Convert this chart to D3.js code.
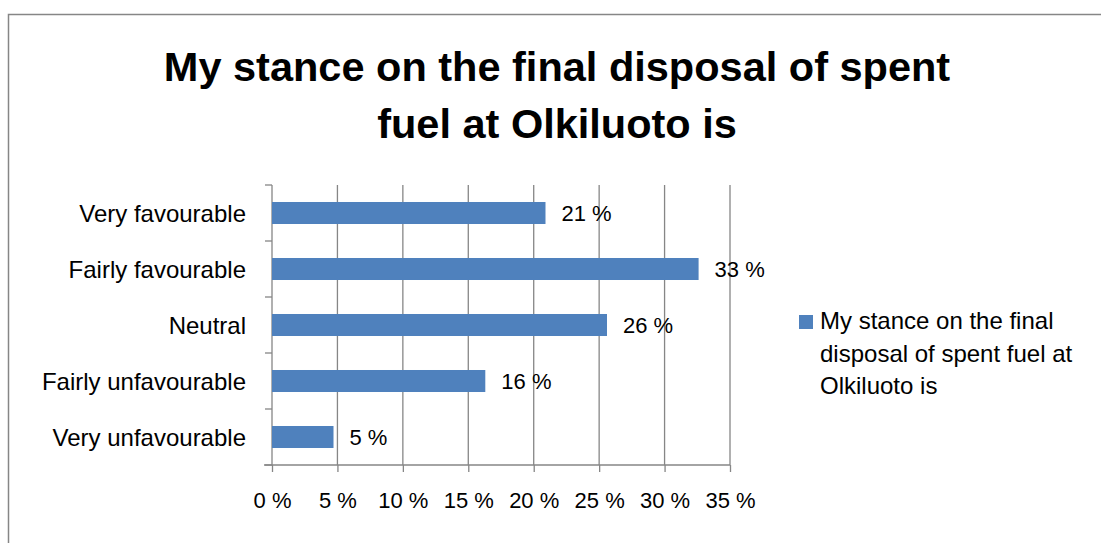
<!DOCTYPE html>
<html>
<head>
<meta charset="utf-8">
<script src="https://cdn.jsdelivr.net/npm/d3@7"></script>
<style>
  html, body { margin: 0; padding: 0; background: #fff; }
  svg { display: block; font-family: "Liberation Sans", Arial, sans-serif; }
</style>
</head>
<body>
<svg id="chart" width="1101" height="543"></svg>
<script>
// Survey answers, top to bottom
const categories = ["Very favourable", "Fairly favourable", "Neutral", "Fairly unfavourable", "Very unfavourable"];
// Share of respondents (%)
const shares = [20.9, 32.6, 25.6, 16.3, 4.7];
// Horizontal axis ticks (%)
const xTicks = [0, 5, 10, 15, 20, 25, 30, 35];
const titleLines = ["My stance on the final", "disposal of spent fuel at", "Olkiluoto is"];
const chartTitle = ["My stance on the final disposal of spent", "fuel at Olkiluoto is"];

const svg = d3.select("#chart");
const gridColor = "#868686";
const barColor = "#4F81BD";

// outer frame of the chart area
svg.append("rect")
  .attr("x", 8.5).attr("y", 14.5)
  .attr("width", 1200).attr("height", 600)
  .attr("fill", "none").attr("stroke", gridColor).attr("stroke-width", 1.5);

// title
const title = svg.append("text")
  .attr("text-anchor", "middle")
  .attr("font-weight", "bold")
  .attr("font-size", 41.5)
  .attr("fill", "#000");
title.selectAll("tspan").data(chartTitle).join("tspan")
  .attr("x", 557)
  .attr("y", (d, i) => 81 + i * 57)
  .text(d => d);

const x = d3.scaleLinear().domain([0, 35]).range([272, 730]);
const y = d3.scaleBand().domain(categories).range([185, 465])
  .paddingInner(0.607).paddingOuter(0.3035);

const plotTop = y.range()[0], plotBottom = y.range()[1];

// vertical gridlines
svg.append("g").selectAll("line").data(xTicks.filter(d => d > 0)).join("line")
  .attr("x1", d => x(d)).attr("x2", d => x(d))
  .attr("y1", plotTop).attr("y2", plotBottom)
  .attr("stroke", gridColor).attr("stroke-width", 1.3);

// horizontal (value) axis
const xAxis = svg.append("g")
  .attr("transform", `translate(0,${plotBottom})`)
  .call(d3.axisBottom(x).tickValues(xTicks).tickFormat(d => d + " %").tickSize(7).tickPadding(20).tickSizeOuter(0));
xAxis.select(".domain").remove();
xAxis.selectAll(".tick line").attr("stroke", gridColor).attr("stroke-width", 1.3);
xAxis.selectAll(".tick text")
  .attr("font-family", "'Liberation Sans', Arial, sans-serif")
  .attr("font-size", 22).attr("fill", "#000");
xAxis.append("line")
  .attr("x1", x(0) - 8).attr("x2", x(35))
  .attr("y1", 0).attr("y2", 0)
  .attr("stroke", gridColor).attr("stroke-width", 1.3);

// category axis line with tick marks at band boundaries
const catAxis = svg.append("g");
catAxis.append("line")
  .attr("x1", x(0)).attr("x2", x(0))
  .attr("y1", plotTop).attr("y2", plotBottom)
  .attr("stroke", gridColor).attr("stroke-width", 1.3);
const boundaries = d3.range(categories.length + 1).map(i => plotTop + i * y.step());
catAxis.selectAll("line.tick").data(boundaries).join("line")
  .attr("class", "tick")
  .attr("x1", x(0) - 7).attr("x2", x(0))
  .attr("y1", d => d).attr("y2", d => d)
  .attr("stroke", gridColor).attr("stroke-width", 1.3);
catAxis.selectAll("text").data(categories).join("text")
  .attr("x", x(0) - 26)
  .attr("y", d => y(d) + y.bandwidth() / 2)
  .attr("dy", "0.36em")
  .attr("text-anchor", "end")
  .attr("font-size", 24)
  .attr("fill", "#000")
  .text(d => d);

// bars
const rows = categories.map((c, i) => ({ cat: c, value: shares[i] }));
svg.append("g").selectAll("rect").data(rows).join("rect")
  .attr("x", x(0))
  .attr("y", d => y(d.cat))
  .attr("width", d => x(d.value) - x(0))
  .attr("height", y.bandwidth())
  .attr("fill", barColor);

// value labels
const fmt = d3.format(".0f");
svg.append("g").selectAll("text").data(rows).join("text")
  .attr("x", d => x(d.value) + 16)
  .attr("y", d => y(d.cat) + y.bandwidth() / 2)
  .attr("dy", "0.36em")
  .attr("font-size", 22)
  .attr("fill", "#000")
  .text(d => fmt(d.value) + " %");

// legend
const legend = svg.append("g");
legend.append("rect")
  .attr("x", 799).attr("y", 315)
  .attr("width", 14).attr("height", 14)
  .attr("fill", barColor);
legend.append("text")
  .attr("font-size", 24).attr("fill", "#000")
  .selectAll("tspan").data(titleLines).join("tspan")
  .attr("x", 820)
  .attr("y", (d, i) => 329 + i * 32.5)
  .text(d => d);
</script>
</body>
</html>
